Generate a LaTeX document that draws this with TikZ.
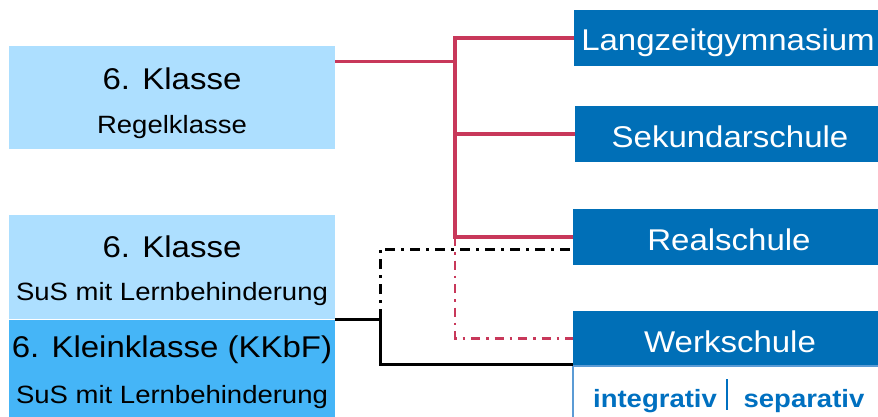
\documentclass[tikz,border=0pt]{standalone}
\usepackage{fontspec}
\setmainfont[FakeStretch=1.1]{Liberation Sans}
\definecolor{lightbl}{HTML}{ADDFFF}
\definecolor{midbl}{HTML}{45B5F7}
\definecolor{darkbl}{HTML}{006FB7}
\definecolor{redl}{HTML}{C8385A}
\definecolor{txtbl}{HTML}{0070C0}
\definecolor{borderbl}{HTML}{5B9BD5}
\begin{document}
\begin{tikzpicture}[x=1pt,y=-1pt,
  box/.style={draw=none,inner sep=0pt,outer sep=0pt,anchor=north west},
  ttl/.style={anchor=base,inner sep=0pt,font=\fontsize{30}{36}\selectfont},
  sub/.style={anchor=base,inner sep=0pt,font=\fontsize{25}{30}\selectfont},
  wtxt/.style={anchor=base,inner sep=0pt,text=white,font=\fontsize{30}{36}\selectfont},
  btxt/.style={anchor=base,inner sep=0pt,text=txtbl,font=\bfseries\fontsize{25}{30}\selectfont},
  redline/.style={draw=redl,line width=3.5pt},
  reddash/.style={draw=redl,line width=2.5pt,dash pattern=on 9pt off 6pt on 2.5pt off 6pt},
  blk/.style={draw=black,line width=3pt},
  blkdash/.style={draw=black,line width=3pt,dash pattern=on 10pt off 6pt on 3pt off 6pt}]
\useasboundingbox (0,0) rectangle (878,416);
% left boxes
\node[box,fill=lightbl,minimum width=326pt,minimum height=103pt] (A) at (9,46) {};
\node[box,fill=lightbl,minimum width=326pt,minimum height=104pt] (B) at (9,215) {};
\node[box,fill=midbl,minimum width=326pt,minimum height=100pt] (C) at (9,320) {};
\node[ttl] (At) at (172,89) {6. Klasse};
\node[sub] (As) at (172,133) {Regelklasse};
\node[ttl] (Bt) at (172,257) {6. Klasse};
\node[sub] (Bs) at (172,300) {SuS mit Lernbehinderung};
\node[ttl] (Ct) at (172,357) {6. Kleinklasse (KKbF)};
\node[sub] (Cs) at (172,403) {SuS mit Lernbehinderung};
% right boxes
\node[box,fill=darkbl,minimum width=310pt,minimum height=56pt] (L) at (574,10) {};
\node[box,fill=darkbl,minimum width=310pt,minimum height=56pt] (S) at (575,106) {};
\node[box,fill=darkbl,minimum width=310pt,minimum height=56pt] (R) at (573,209) {};
\node[box,fill=darkbl,minimum width=310pt,minimum height=55pt] (W) at (573,311) {};
\node[wtxt] (Lt) at (728,50) {Langzeitgymnasium};
\node[wtxt] (St) at (730,147) {Sekundarschule};
\node[wtxt] (Rt) at (729,250) {Realschule};
\node[wtxt] (Wt) at (730,352) {Werkschule};
\node[box,draw=borderbl,line width=1.5pt,minimum width=320pt,minimum height=60pt] (I) at (573,366) {};
\node[btxt] (It) at (655,407) {integrativ};
\node[btxt] (Is) at (804,407) {separativ};
\draw[txtbl,line width=1.5pt] (727,379) -- (727,410);
% connectors
\coordinate (j0) at (455,61.5);
\coordinate (rd) at (455,338.5);
\coordinate (kt) at (380,249);
\coordinate (kb) at (380,364);
\draw[reddash] (R.west -| j0) -- (rd) -- (W.west);
\draw[redline] (A.east |- j0) -- (j0);
\draw[redline] (L.west) -- (L.west -| j0) -- (R.west -| j0) -- (R.west);
\draw[redline] (S.west -| j0) -- (S.west);
\draw[blkdash] (B.south east -| kt) -- (kt) -- (kt -| R.west);
\draw[blk] (B.south east) -- (B.south east -| kb) -- (kb) -- (kb -| W.west);
\end{tikzpicture}
\end{document}
